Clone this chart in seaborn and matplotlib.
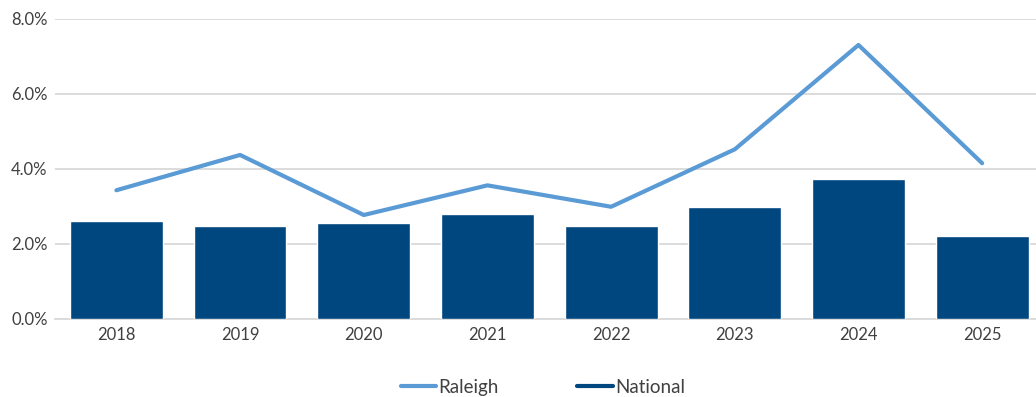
import numpy as np
import pandas as pd
import matplotlib
matplotlib.use("Agg")
import matplotlib.pyplot as plt
from matplotlib.lines import Line2D
import seaborn as sns

# Annual growth rates (%)
years = ["2018", "2019", "2020", "2021", "2022", "2023", "2024", "2025"]
national = [2.61, 2.48, 2.56, 2.80, 2.48, 2.98, 3.73, 2.21]
raleigh = [3.43, 4.37, 2.77, 3.56, 2.99, 4.52, 7.30, 4.15]
y_ticks = [0.0, 2.0, 4.0, 6.0, 8.0]

BAR_COLOR = "#00467F"
LINE_COLOR = "#5B9BD5"
GRID_COLOR = "#D9D9D9"
TEXT_COLOR = "#404040"

sns.set_theme(style="white")
plt.rcParams["font.family"] = ["Lato", "DejaVu Sans"]

df = pd.DataFrame({"year": years, "National": national, "Raleigh": raleigh})
df["pos"] = np.arange(len(years))

fig = plt.figure(figsize=(10.36, 3.97), dpi=100)
ax = fig.add_axes([0.0527, 0.1965, 0.955, 0.7564])

sns.barplot(data=df, x="year", y="National", color=BAR_COLOR, width=0.75,
            saturation=1, ax=ax, zorder=2)
sns.lineplot(data=df, x="pos", y="Raleigh", color=LINE_COLOR, linewidth=3.0,
             ax=ax, zorder=3)

ax.set_xlim(-0.5, len(years) - 0.5)
ax.set_ylim(0, 8)
ax.set_yticks(y_ticks)
ax.set_yticklabels([f"{v:.1f}%" for v in y_ticks])
ax.set_xticks(range(len(years)))
ax.set_xticklabels(years)
ax.set_xlabel("")
ax.set_ylabel("")

ax.grid(axis="y", color=GRID_COLOR, linewidth=1.3, zorder=0)
ax.grid(axis="x", visible=False)
for side in ["top", "right", "left"]:
    ax.spines[side].set_visible(False)
ax.spines["bottom"].set_color(GRID_COLOR)
ax.spines["bottom"].set_linewidth(1.3)
ax.spines["bottom"].set_zorder(1)

ax.tick_params(axis="both", length=0, labelsize=12, colors=TEXT_COLOR)
ax.tick_params(axis="y", pad=5)
ax.tick_params(axis="x", pad=6)

handles = [
    Line2D([], [], color=LINE_COLOR, linewidth=3.0, label="Raleigh"),
    Line2D([], [], color=BAR_COLOR, linewidth=3.0, label="National"),
]
fig.legend(handles=handles, loc="center", bbox_to_anchor=(0.524, 0.024),
           ncol=2, frameon=False, fontsize=13.5, handlelength=1.9,
           handletextpad=0.1, columnspacing=4.2, labelcolor=TEXT_COLOR)

fig.savefig("out.png", dpi=100)
